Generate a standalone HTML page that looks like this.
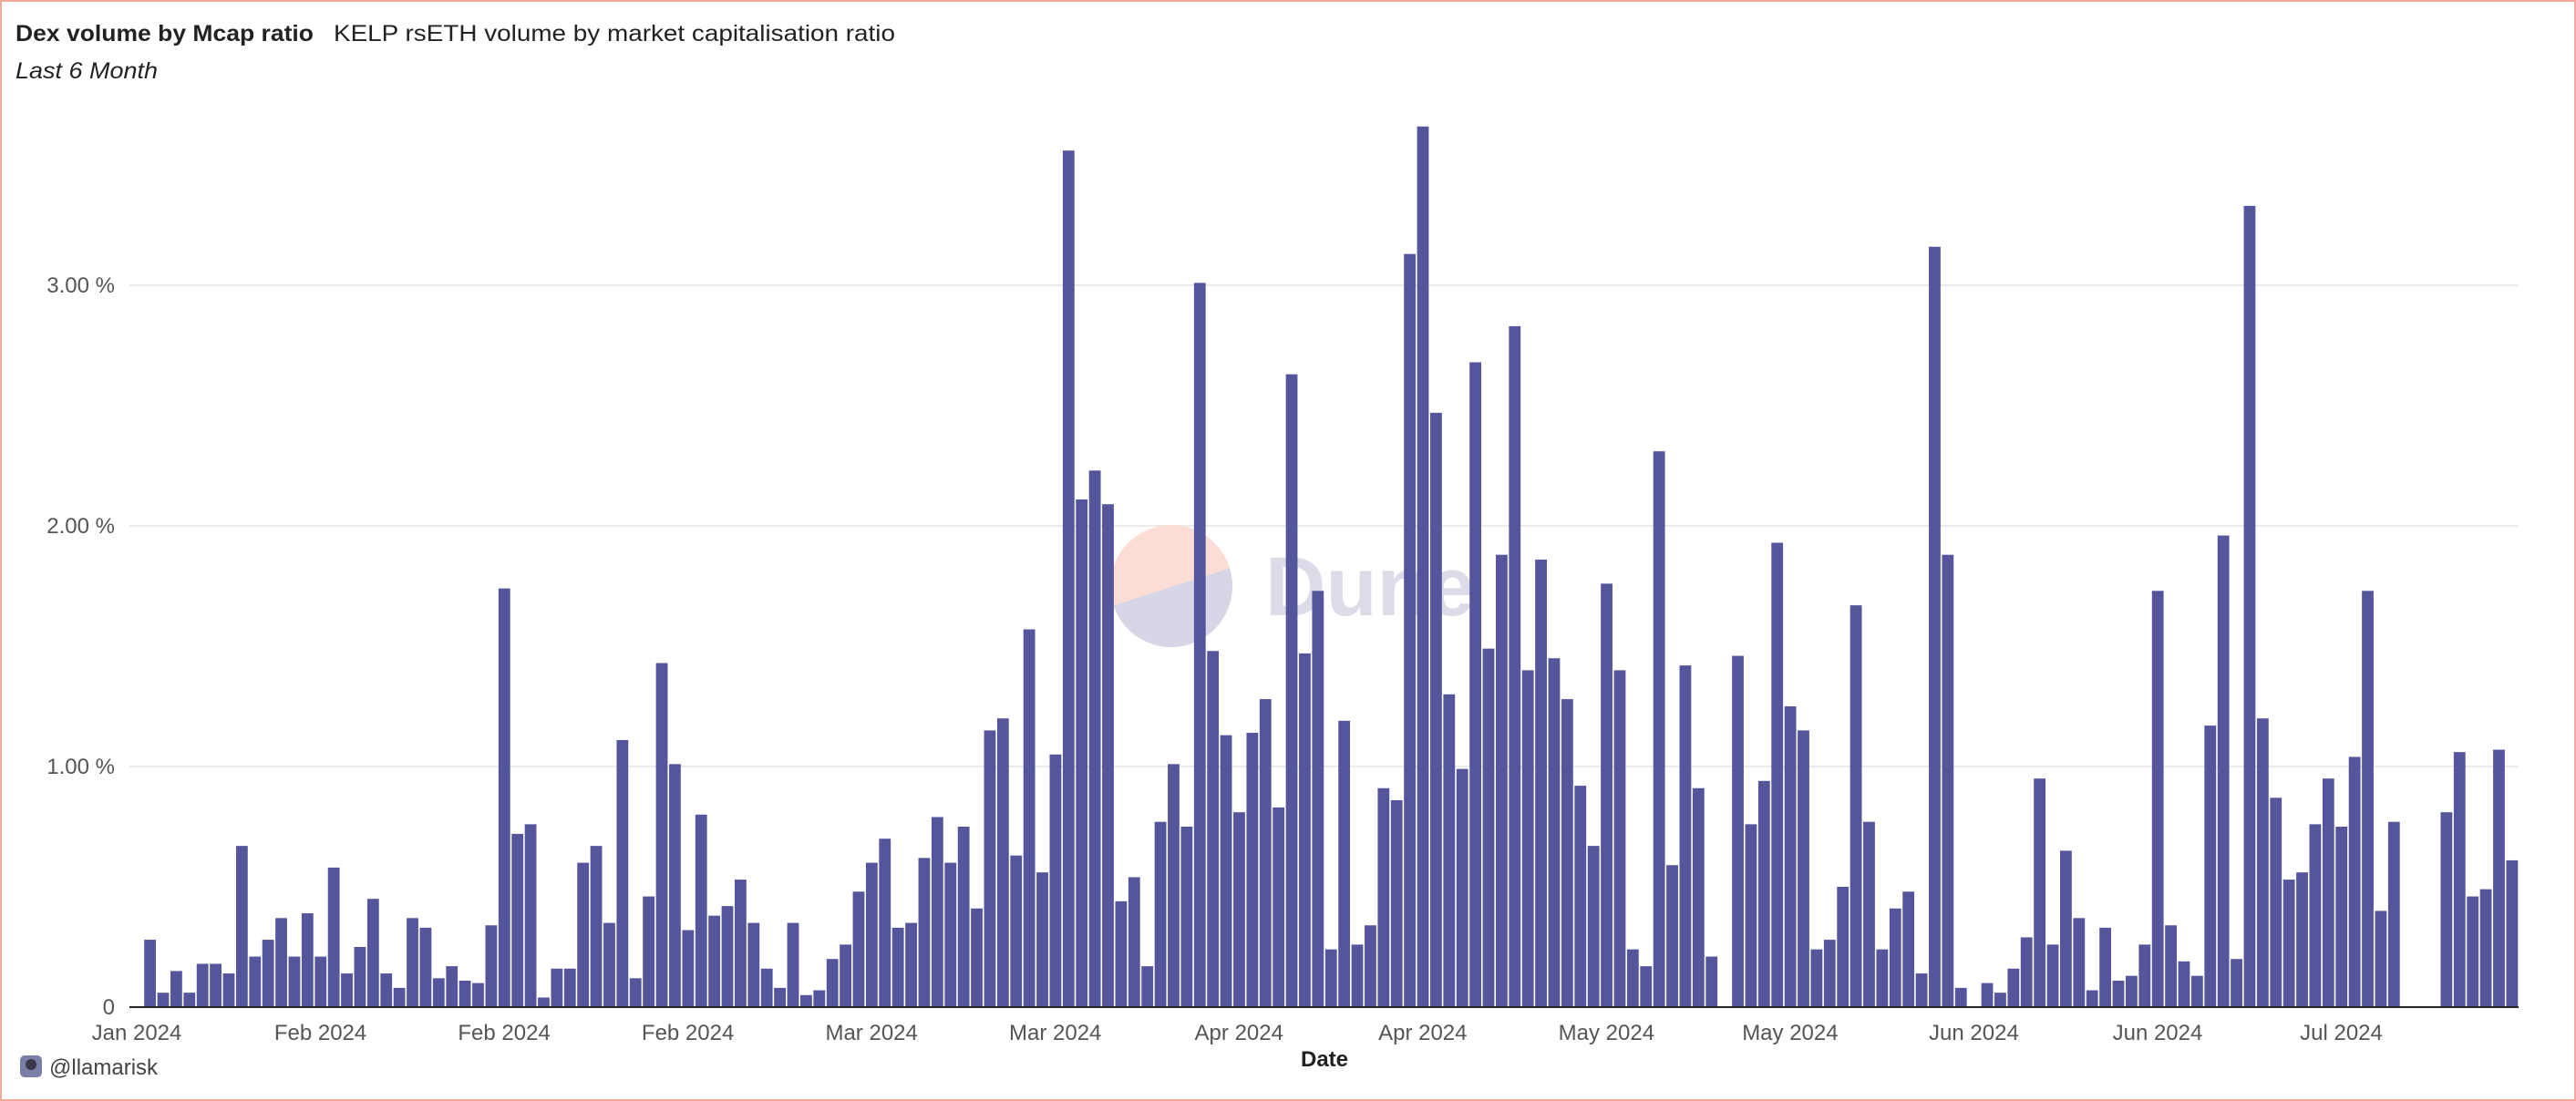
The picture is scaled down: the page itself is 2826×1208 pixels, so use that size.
<!DOCTYPE html>
<html><head><meta charset="utf-8"><style>
html,body{margin:0;padding:0;background:#fff;}
svg{display:block;font-family:"Liberation Sans",sans-serif;}
</style></head><body>
<svg id="chart" width="2826" height="1208" viewBox="0 0 2826 1208" xmlns="http://www.w3.org/2000/svg">
<rect x="1" y="1" width="2824" height="1206" fill="#fff" stroke="#f3aa9c" stroke-width="2"/>
<text x="17" y="45" font-size="25" font-weight="bold" fill="#222" textLength="327" lengthAdjust="spacingAndGlyphs">Dex volume by Mcap ratio</text>
<text x="366" y="45" font-size="25" fill="#222" textLength="616" lengthAdjust="spacingAndGlyphs">KELP rsETH volume by market capitalisation ratio</text>
<text x="17" y="86" font-size="25" font-style="italic" fill="#222" textLength="156" lengthAdjust="spacingAndGlyphs">Last 6 Month</text>
<g id="grid"></g>
<g id="watermark">
 <clipPath id="wc"><circle cx="1285" cy="643" r="67"/></clipPath>
 <g clip-path="url(#wc)">
  <rect x="1210" y="570" width="150" height="150" fill="#fbddd5"/>
  <polygon points="1210,668 1360,620 1360,720 1210,720" fill="#d6d6e6"/>
 </g>
 <text x="1388" y="675" font-size="92" font-weight="bold" fill="#dcdce8">Dune</text>
</g>
<g id="bars"></g>
<g id="axes"></g>
<text x="1453" y="1170" font-size="24" font-weight="bold" fill="#222" text-anchor="middle">Date</text>
<g>
 <rect x="22" y="1158" width="24" height="24" rx="5" fill="#7a7fa8"/>
 <circle cx="34" cy="1168" r="6" fill="#3a3a4a"/>
 <text x="54" y="1179" font-size="24" fill="#444">@llamarisk</text>
</g>
</svg>
<script>
const values = [0.28,0.06,0.15,0.06,0.18,0.18,0.14,0.67,0.21,0.28,0.37,0.21,0.39,0.21,0.58,0.14,0.25,0.45,0.14,0.08,0.37,0.33,0.12,0.17,0.11,0.10,0.34,1.74,0.72,0.76,0.04,0.16,0.16,0.60,0.67,0.35,1.11,0.12,0.46,1.43,1.01,0.32,0.80,0.38,0.42,0.53,0.35,0.16,0.08,0.35,0.05,0.07,0.20,0.26,0.48,0.60,0.70,0.33,0.35,0.62,0.79,0.60,0.75,0.41,1.15,1.20,0.63,1.57,0.56,1.05,3.56,2.11,2.23,2.09,0.44,0.54,0.17,0.77,1.01,0.75,3.01,1.48,1.13,0.81,1.14,1.28,0.83,2.63,1.47,1.73,0.24,1.19,0.26,0.34,0.91,0.86,3.13,3.66,2.47,1.30,0.99,2.68,1.49,1.88,2.83,1.40,1.86,1.45,1.28,0.92,0.67,1.76,1.40,0.24,0.17,2.31,0.59,1.42,0.91,0.21,0,1.46,0.76,0.94,1.93,1.25,1.15,0.24,0.28,0.50,1.67,0.77,0.24,0.41,0.48,0.14,3.16,1.88,0.08,0,0.10,0.06,0.16,0.29,0.95,0.26,0.65,0.37,0.07,0.33,0.11,0.13,0.26,1.73,0.34,0.19,0.13,1.17,1.96,0.20,3.33,1.20,0.87,0.53,0.56,0.76,0.95,0.75,1.04,1.73,0.40,0.77,0,0,0,0.81,1.06,0.46,0.49,1.07,0.61];
const yTicks = [0,1,2,3];
const yTickLabels = ["0","1.00 %","2.00 %","3.00 %"];
const xTickLabels = ["Jan 2024","Feb 2024","Feb 2024","Feb 2024","Mar 2024","Mar 2024","Apr 2024","Apr 2024","May 2024","May 2024","Jun 2024","Jun 2024","Jul 2024"];
const NS="http://www.w3.org/2000/svg";
const baseY=1105, perUnit=264, bandStart=157.4, slot=14.396, barW=12.8;
const y = v => baseY - v*perUnit;
const x = i => bandStart + i*slot;
function mk(tag, attrs, parent){const e=document.createElementNS(NS,tag);for(const k in attrs)e.setAttribute(k,attrs[k]);parent.appendChild(e);return e;}
const grid=document.getElementById('grid'), bars=document.getElementById('bars'), axes=document.getElementById('axes');
yTicks.forEach((t,i)=>{
  if(t>0){const g=mk('line',{x1:142,x2:2763,y1:y(t),y2:y(t),stroke:'#ebebeb','stroke-width':2},grid);
  
  }
  const l=mk('text',{x:126,y:y(t)+8,'font-size':24,fill:'#555','text-anchor':'end'},axes);
  l.textContent=yTickLabels[i];
  
  
});
values.forEach((v,i)=>{
  if(v<=0) return;
  const r=mk('rect',{x:x(i)+0.8,y:y(v),width:barW,height:v*perUnit,fill:'#55559c'},bars);
  
  
});
const base=mk('line',{x1:142,x2:2763,y1:baseY,y2:baseY,stroke:'#222','stroke-width':2},axes);


xTickLabels.forEach((s,i)=>{
  const t=mk('text',{x:x(i*14)-7.4,y:1141,'font-size':24,fill:'#555','text-anchor':'middle'},axes);
  t.textContent=s;
  
  
});
</script>
</body></html>
